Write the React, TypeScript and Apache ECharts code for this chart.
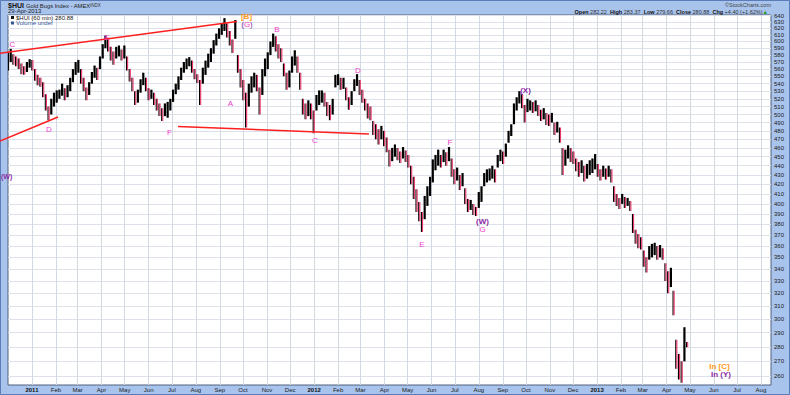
import React, { useEffect, useRef } from "react";
import * as echarts from "echarts";

// ---- data -----------------------------------------------------------------
// Half-week bars ([low, high]) of $HUI, first bar on 1-Dec-2010, one every 3.5 days
const BAR_START = "2010-12-01";
const BAR_STEP_DAYS = 3.5;

const bars2010: [number, number][] = [
  [558, 584], [570, 589], [566, 581], [564, 578], [560, 575], [553, 568], [552, 564], [556, 570], [562, 574],
];

const bars2011: [number, number][] = [
  [558, 573], [544, 560], [538, 552], [536, 548], [522, 542], [505, 526], [493, 510], [500, 520], [510, 528],
  [515, 531], [520, 532], [524, 540], [518, 534], [522, 538], [530, 548], [542, 560], [552, 570], [555, 573],
  [540, 560], [530, 548], [518, 535], [525, 542], [540, 556], [548, 565], [545, 562], [560, 578], [575, 596],
  [590, 609], [585, 604], [572, 592], [566, 585], [575, 592], [578, 594], [572, 588], [575, 594], [558, 578],
  [543, 560], [530, 548], [512, 530], [515, 532], [528, 546], [538, 555], [530, 548], [518, 534], [520, 532],
  [512, 528], [505, 520], [498, 514], [492, 508], [498, 514], [496, 516], [505, 520], [516, 532], [526, 540],
  [532, 550], [545, 562], [555, 570], [560, 575], [564, 577], [555, 572], [546, 560], [541, 553], [512, 545],
  [540, 562], [552, 572], [562, 582], [570, 590], [582, 602], [594, 612], [604, 620], [610, 628], [616, 636],
  [606, 628], [594, 616], [583, 603], [604, 633], [555, 580], [535, 560], [518, 545], [484, 528], [510, 540],
  [528, 550], [535, 555], [530, 552], [500, 535], [525, 560], [550, 575], [560, 584], [580, 600], [592, 612],
  [585, 608], [575, 596], [570, 590], [550, 568], [532, 555], [535, 558], [555, 578], [565, 587], [555, 578],
  [532, 555], [500, 520], [494, 514], [498, 518], [494, 514], [477, 505],
];

const bars2012: [number, number][] = [
  [505, 525], [512, 531], [515, 531], [510, 528], [498, 516], [493, 512], [500, 520], [535, 552], [538, 553],
  [532, 548], [533, 548], [518, 535], [506, 522], [512, 530], [530, 546], [537, 553], [525, 545], [515, 532],
  [505, 520], [495, 514], [493, 510], [475, 492], [470, 488], [464, 482], [470, 486], [462, 480], [455, 472],
  [439, 458], [445, 460], [450, 464], [446, 460], [443, 456], [448, 461], [444, 457], [438, 452], [420, 440],
  [405, 428], [392, 415], [383, 402], [373, 392], [385, 408], [398, 418], [408, 428], [422, 447], [435, 452],
  [440, 458], [438, 452], [444, 458], [440, 455], [445, 461], [428, 448], [420, 436], [424, 438], [414, 430],
  [418, 432], [400, 416], [392, 405], [394, 404], [389, 400], [388, 397], [396, 412], [402, 418], [418, 432],
  [422, 436], [424, 437], [426, 440], [422, 436], [438, 452], [445, 458], [442, 456], [450, 465], [466, 480],
  [474, 488], [488, 514], [505, 522], [514, 530], [508, 526], [490, 512], [503, 520], [505, 518], [502, 516],
  [504, 518], [498, 512], [492, 506], [494, 508], [487, 502], [486, 500], [490, 502], [475, 490], [478, 491],
  [466, 484], [430, 460], [440, 458], [448, 463], [444, 460], [442, 456], [434, 448], [428, 444], [432, 446],
  [423, 440], [426, 442], [430, 446], [432, 448], [436, 453],
];

const bars2013: [number, number][] = [
  [428, 442], [424, 436], [428, 440], [425, 437], [428, 440], [422, 436], [402, 418], [398, 410], [395, 406],
  [400, 410], [396, 407], [398, 406], [393, 403], [372, 390], [362, 375], [358, 371], [357, 368], [342, 356],
  [337, 350], [348, 360], [350, 362], [352, 363], [348, 360], [350, 361], [348, 358], [330, 345], [320, 338],
  [325, 341], [303, 322], [265, 285], [258, 275], [256, 270], [270, 294], [279.66, 283.37],
];

const priceTicks = [
  260, 270, 280, 290, 300, 310, 320, 330, 340, 350, 360, 370, 380, 390, 400, 410, 420, 430, 440, 450,
  460, 470, 480, 490, 500, 510, 520, 530, 540, 550, 560, 570, 580, 590, 600, 610, 620, 630, 640,
];

const monthTicks = [
  "2011-01", "2011-02", "2011-03", "2011-04", "2011-05", "2011-06", "2011-07", "2011-08",
  "2011-09", "2011-10", "2011-11", "2011-12", "2012-01", "2012-02", "2012-03", "2012-04",
  "2012-05", "2012-06", "2012-07", "2012-08", "2012-09", "2012-10", "2012-11", "2012-12",
  "2013-01", "2013-02", "2013-03", "2013-04", "2013-05", "2013-06", "2013-07", "2013-08",
];
const monthNames = ["Jan", "Feb", "Mar", "Apr", "May", "Jun", "Jul", "Aug", "Sep", "Oct", "Nov", "Dec"];

const AXIS_START = "2010-12-01";
const AXIS_END = "2013-08-14";
const PRICE_MIN = 254.5;
const PRICE_MAX = 641;

// ---------------------------------------------------------------------------
const DAY = 86400000;
const utc = (s: string) => {
  const [y, m, d] = s.split("-").map(Number);
  return Date.UTC(y, m - 1, d || 1);
};

const MAGENTA = "#f23ccc";
const PURPLE = "#8c2aa6";
const ORANGE = "#ff9a1a";
const RED_LINE = "#ff1f1f";
const BAR_UP = "#000000";
const BAR_DOWN = "#e8386a";
const FONT = "Liberation Sans";

function txt(text: string, x: number, y: number, fill: string, size: number, extra: any = {}) {
  return {
    type: "text",
    z: 100,
    silent: true,
    style: {
      text,
      x,
      y,
      fill,
      fontSize: size,
      fontFamily: FONT,
      fontWeight: extra.bold ? "bold" : "normal",
      align: extra.align || "center",
      verticalAlign: "middle",
      rich: extra.rich,
    },
  };
}

function line(x1: number, y1: number, x2: number, y2: number) {
  return {
    type: "line",
    z: 90,
    silent: true,
    shape: { x1, y1, x2, y2 },
    style: { stroke: RED_LINE, lineWidth: 1.4 },
  };
}

export default function App() {
  const ref = useRef<HTMLDivElement>(null);

  useEffect(() => {
    document.body.style.margin = "0";
    const chart = echarts.init(ref.current!, null, { renderer: "svg" });

    const allBars = [...bars2010, ...bars2011, ...bars2012, ...bars2013];
    const t0 = utc(BAR_START);
    const data = allBars.map(([lo, hi], i) => {
      const t = t0 + i * BAR_STEP_DAYS * DAY;
      const prev = i > 0 ? allBars[i - 1] : allBars[0];
      const up = (lo + hi) / 2 >= (prev[0] + prev[1]) / 2 ? 1 : 0;
      return [t, lo, hi, up];
    });

    const monthTs = monthTicks.map(utc);

    const header = [
      txt("$HUI", 8, 5, "#111", 7, { bold: true, align: "left" }),
      txt("Gold Bugs Index - AMEX", 26, 5.5, "#222", 5.8, { align: "left" }),
      txt("INDX", 90, 5.5, "#333", 4.5, { align: "left" }),
      txt("29-Apr-2013", 8, 11, "#222", 6, { align: "left" }),
      txt("©StockCharts.com", 771, 5, "#444", 5.5, { align: "right" }),
      txt(
        "{b|Open} 282.22  {b|High} 283.37  {b|Low} 279.66  {b|Close} 280.88  {b|Chg} +4.40 (+1.62%){g|▲}",
        768,
        12,
        "#333",
        5.5,
        {
          align: "right",
          rich: {
            b: { fontWeight: "bold", fontSize: 5.5, fill: "#111", fontFamily: FONT },
            g: { fill: "#1a9a1a", fontSize: 5.5, fontFamily: FONT },
          },
        }
      ),
      { type: "rect", z: 100, silent: true, shape: { x: 11, y: 16, width: 3, height: 3 }, style: { fill: "#111" } },
      txt("$HUI (60 min) 280.88", 16, 17.5, "#222", 6, { align: "left" }),
      { type: "rect", z: 100, silent: true, shape: { x: 11, y: 21.5, width: 3, height: 3 }, style: { fill: "#2f5597" } },
      txt("Volume undef", 16, 23, "#2f5597", 6, { align: "left" }),
    ];

    const waves = [
      txt("C", 12.5, 44, MAGENTA, 8),
      txt("D", 49, 129, MAGENTA, 8),
      txt("E", 107, 37, MAGENTA, 8),
      txt("F", 169.5, 132, MAGENTA, 8),
      txt("A", 230.5, 103, MAGENTA, 8),
      txt("[B]", 246.5, 16, ORANGE, 8, { bold: true }),
      txt("{p|(}{m|G}{p|)}", 247, 24, MAGENTA, 8, {
        rich: {
          p: { fill: PURPLE, fontSize: 8, fontFamily: FONT },
          m: { fill: MAGENTA, fontSize: 8, fontFamily: FONT },
        },
      }),
      txt("B", 277, 29, MAGENTA, 8),
      txt("C", 315, 140, MAGENTA, 8),
      txt("D", 358, 70, MAGENTA, 8),
      txt("E", 422, 244, MAGENTA, 8),
      txt("F", 450, 142, MAGENTA, 8),
      txt("(W)", 482.5, 221.5, PURPLE, 8, { bold: true }),
      txt("G", 482.5, 229.5, MAGENTA, 8),
      txt("(X)", 525.5, 90, PURPLE, 8, { bold: true }),
      txt("(W)", 1, 176, PURPLE, 7, { bold: true, align: "left" }),
      txt("In [C]", 719.5, 366, ORANGE, 8, { bold: true }),
      txt("In (Y)", 721, 374.5, PURPLE, 8, { bold: true }),
    ];

    const trendLines = [line(0, 53.3, 237, 21.5), line(0, 141, 58, 117), line(178, 126.5, 369, 134)];

    chart.setOption({
      animation: false,
      backgroundColor: "#a9c4ec",
      textStyle: { fontFamily: FONT },
      grid: {
        left: 8,
        right: 19,
        top: 15,
        bottom: 10,
        show: true,
        backgroundColor: "#ffffff",
        borderColor: "#51617f",
        borderWidth: 1,
      },
      xAxis: {
        type: "value",
        min: utc(AXIS_START),
        max: utc(AXIS_END),
        axisLine: { show: false },
        axisTick: { show: false, customValues: monthTs },
        axisLabel: {
          customValues: monthTs,
          fontSize: 6,
          color: "#1a1a1a",
          margin: 2,
          fontFamily: FONT,
          formatter: (v: number) => {
            const d = new Date(v);
            const m = d.getUTCMonth();
            return m === 0 ? `{yr|${d.getUTCFullYear()}}` : monthNames[m];
          },
          rich: { yr: { fontWeight: "bold", fontSize: 6, color: "#111", fontFamily: FONT } },
        },
        splitLine: { show: true, lineStyle: { color: "#d3d9e3", width: 1 } },
      },
      yAxis: {
        type: "log",
        logBase: 10,
        position: "right",
        min: PRICE_MIN,
        max: PRICE_MAX,
        axisLine: { show: false },
        axisTick: { show: false, customValues: priceTicks },
        axisLabel: {
          customValues: priceTicks,
          fontSize: 6,
          color: "#1a1a1a",
          margin: 3,
          fontFamily: FONT,
          formatter: (v: number) => String(Math.round(v)),
        },
        splitLine: { show: true, lineStyle: { color: "#dde2ea", width: 1 } },
      },
      series: [
        {
          type: "custom",
          clip: true,
          data,
          encode: { x: 0, y: [1, 2] },
          renderItem: (_params: any, api: any) => {
            const t = api.value(0);
            const top = api.coord([t, api.value(2)]);
            const bot = api.coord([t, api.value(1)]);
            const w = 2.2;
            const h = Math.max(1, bot[1] - top[1]);
            const x0 = top[0] - w / 2;
            if (api.value(3) === 1) {
              return { type: "rect", shape: { x: x0, y: top[1], width: w, height: h }, style: { fill: BAR_UP } };
            }
            return {
              type: "group",
              children: [
                { type: "rect", shape: { x: x0, y: top[1], width: w / 2, height: h }, style: { fill: BAR_UP } },
                { type: "rect", shape: { x: x0 + w / 2, y: top[1], width: w / 2, height: h }, style: { fill: BAR_DOWN } },
              ],
            };
          },
        },
      ],
      graphic: [
        { type: "rect", z: 0, silent: true, shape: { x: 0.5, y: 0.5, width: 789, height: 394 }, style: { fill: "none", stroke: "#5b7cb8", lineWidth: 1 } },
        ...header,
        ...trendLines,
        ...waves,
      ],
    });

    return () => chart.dispose();
  }, []);

  return (
    <div
      ref={ref}
      style={{ position: "absolute", left: 0, top: 0, width: 790, height: 395, background: "#a9c4ec" }}
    />
  );
}
